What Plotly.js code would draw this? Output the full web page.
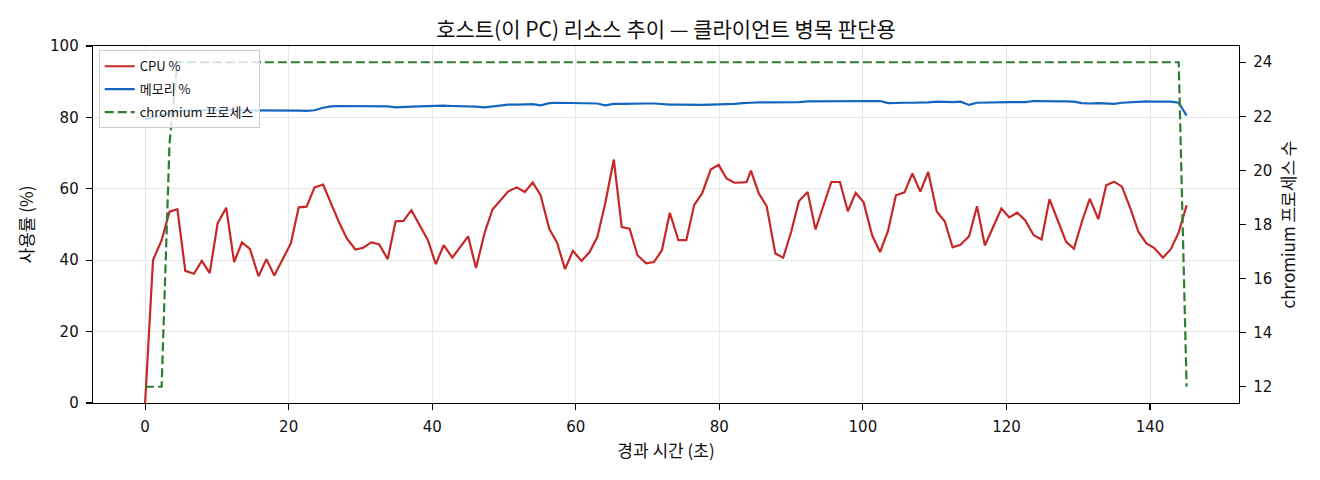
<!DOCTYPE html>
<html>
<head>
<meta charset="utf-8">
<script src="https://cdn.plot.ly/plotly-3.0.1.min.js"></script>
<style>html,body{margin:0;padding:0;background:#fff;}#chart{width:1320px;height:480px;}</style>
</head>
<body>
<div id="chart"></div>
<script>
const elapsedSec = [
  0.0, 1.1, 2.3, 3.4, 4.5, 5.6, 6.8, 7.9, 9.0, 10.1,
  11.3, 12.4, 13.5, 14.6, 15.8, 16.9, 18.0, 19.1, 20.3, 21.4,
  22.5, 23.6, 24.8, 25.9, 27.0, 28.1, 29.3, 30.4, 31.5, 32.6,
  33.8, 34.9, 36.0, 37.1, 38.3, 39.4, 40.5, 41.6, 42.8, 43.9,
  45.0, 46.1, 47.3, 48.4, 49.5, 50.6, 51.8, 52.9, 54.0, 55.1,
  56.3, 57.4, 58.5, 59.6, 60.8, 61.9, 63.0, 64.1, 65.3, 66.4,
  67.5, 68.6, 69.8, 70.9, 72.0, 73.1, 74.3, 75.4, 76.5, 77.6,
  78.8, 79.9, 81.0, 82.1, 83.3, 83.8, 84.4, 85.5, 86.6, 87.8,
  88.9, 90.0, 91.1, 92.3, 93.4, 94.5, 95.6, 96.8, 97.9, 99.0,
  100.1, 101.3, 102.4, 103.5, 104.6, 105.8, 106.9, 108.0, 109.1, 110.3,
  111.4, 112.5, 113.6, 114.8, 115.9, 117.0, 118.1, 119.3, 120.4, 121.5,
  122.6, 123.8, 124.9, 126.0, 127.1, 128.3, 129.4, 130.5, 131.6, 132.8,
  133.9, 135.0, 136.1, 137.3, 138.4, 139.5, 140.6, 141.8, 142.9, 144.0,
  145.1
];

const cpuPct = [
  0, 40.0, 45.6, 53.6, 54.3, 37.0, 36.2, 39.8, 36.4, 50.3,
  54.7, 39.5, 45.0, 43.2, 35.5, 40.3, 35.7, 40.2, 44.7, 54.8,
  55.0, 60.4, 61.2, 55.9, 50.7, 46.1, 43.0, 43.5, 45.0, 44.5,
  40.3, 50.9, 51.0, 54.0, 49.8, 45.6, 38.9, 44.2, 40.7, 43.7,
  46.7, 37.8, 47.7, 54.2, 56.7, 59.3, 60.4, 59.1, 61.8, 58.2,
  48.8, 44.9, 37.5, 42.6, 39.8, 42.2, 46.5, 55.9, 68.2, 49.3,
  48.8, 41.4, 39.1, 39.5, 42.8, 53.3, 45.6, 45.6, 55.5, 58.7,
  65.4, 66.7, 62.9, 61.7, 61.8, 61.9, 65.1, 58.7, 55.1, 41.9,
  40.7, 47.9, 56.6, 59.1, 48.6, 55.1, 61.9, 61.9, 53.7, 58.9,
  56.2, 46.9, 42.3, 48.2, 58.2, 59.0, 64.3, 59.2, 64.7, 53.6,
  50.9, 43.6, 44.3, 46.7, 55.1, 44.1, 49.3, 54.5, 52.0, 53.3,
  51.2, 47.0, 45.8, 57.1, 51.4, 45.2, 43.2, 50.7, 57.2, 51.5,
  61.0, 62.0, 60.6, 54.3, 47.9, 44.7, 43.4, 40.7, 43.1, 47.8,
  55.4
];

const memPct = [
  79.5, 80.0, 80.6, 81.2, 81.7, 81.9, 82.0, 82.0, 82.1, 82.1,
  82.0, 82.0, 82.1, 82.0, 82.0, 82.0, 82.0, 82.0, 82.0, 81.9,
  81.8, 82.0, 82.7, 83.1, 83.2, 83.2, 83.2, 83.2, 83.2, 83.2,
  83.1, 82.8, 83.0, 83.0, 83.1, 83.2, 83.3, 83.3, 83.2, 83.2,
  83.1, 83.0, 82.8, 83.1, 83.5, 83.6, 83.6, 83.7, 83.7, 83.4,
  84.0, 84.1, 84.1, 84.1, 84.0, 83.9, 83.9, 83.4, 83.8, 83.8,
  83.9, 83.9, 83.9, 83.9, 83.7, 83.6, 83.6, 83.5, 83.6, 83.5,
  83.6, 83.6, 83.7, 83.8, 84.0, 84.1, 84.1, 84.2, 84.2, 84.2,
  84.2, 84.3, 84.3, 84.5, 84.5, 84.5, 84.5, 84.5, 84.5, 84.6,
  84.6, 84.6, 84.6, 84.0, 84.1, 84.1, 84.1, 84.1, 84.2, 84.4,
  84.3, 84.3, 84.4, 83.5, 84.1, 84.2, 84.2, 84.2, 84.3, 84.3,
  84.3, 84.6, 84.5, 84.5, 84.5, 84.5, 84.4, 84.0, 83.9, 84.0,
  83.9, 83.8, 84.1, 84.3, 84.5, 84.5, 84.4, 84.4, 84.4, 84.1,
  80.5
];

const chromiumProcs = [
  12, 12, 12, 21, 24, 24, 24, 24, 24, 24,
  24, 24, 24, 24, 24, 24, 24, 24, 24, 24,
  24, 24, 24, 24, 24, 24, 24, 24, 24, 24,
  24, 24, 24, 24, 24, 24, 24, 24, 24, 24,
  24, 24, 24, 24, 24, 24, 24, 24, 24, 24,
  24, 24, 24, 24, 24, 24, 24, 24, 24, 24,
  24, 24, 24, 24, 24, 24, 24, 24, 24, 24,
  24, 24, 24, 24, 24, 24, 24, 24, 24, 24,
  24, 24, 24, 24, 24, 24, 24, 24, 24, 24,
  24, 24, 24, 24, 24, 24, 24, 24, 24, 24,
  24, 24, 24, 24, 24, 24, 24, 24, 24, 24,
  24, 24, 24, 24, 24, 24, 24, 24, 24, 24,
  24, 24, 24, 24, 24, 24, 24, 24, 24, 24,
  12
];

const seriesNames = ['CPU %', '메모리 %', 'chromium 프로세스'];
const titleText = '호스트(이 PC) 리소스 추이 — 클라이언트 병목 판단용';
const xTitle = '경과 시간 (초)';
const yTitle = '사용률 (%)';
const y2Title = 'chromium 프로세스 수';

const FONT = "'Noto Sans CJK KR', 'Noto Sans', sans-serif";
const TICKFONT = "'DejaVu Sans', 'Noto Sans CJK KR', sans-serif";

const traces = [
  {x: elapsedSec, y: cpuPct, name: seriesNames[0], type: 'scatter', mode: 'lines',
   legendgroup: 'a', line: {color: '#c62828', width: 2.2}},
  {x: elapsedSec, y: memPct, name: seriesNames[1], type: 'scatter', mode: 'lines',
   legendgroup: 'b', line: {color: '#1565c0', width: 2.2}},
  {x: elapsedSec, y: chromiumProcs, name: seriesNames[2], type: 'scatter', mode: 'lines',
   legendgroup: 'c', yaxis: 'y2', line: {color: '#2e7d32', width: 2.2, dash: '9px,4px'}}
];

const axisCommon = {
  showline: true, linecolor: '#000', linewidth: 1.3,
  ticks: 'outside', ticklen: 6, tickcolor: '#000', tickwidth: 1.2,
  zeroline: false, tickfont: {size: 15, color: '#111', family: TICKFONT}
};

const layout = {
  width: 1320, height: 480,
  margin: {l: 93, r: 81, t: 46, b: 77},
  paper_bgcolor: '#fff', plot_bgcolor: '#fff',
  font: {family: FONT, color: '#111'},
  title: {text: titleText, font: {size: 21, family: FONT, color: '#111'},
          x: 0.5, xref: 'paper', y: 1 - 30/480, yref: 'container', yanchor: 'middle'},
  showlegend: true,
  legend: {x: 0.005, y: 0.988, xanchor: 'left', yanchor: 'top', traceorder: 'grouped',
           tracegroupgap: 3,
           bgcolor: 'rgba(255,255,255,0.8)', bordercolor: '#cccccc', borderwidth: 1,
           font: {size: 13, family: FONT, color: '#111'}},
  xaxis: Object.assign({}, axisCommon, {
    range: [-7.26, 152.4], tickmode: 'linear', tick0: 0, dtick: 20,
    showgrid: true, gridcolor: '#e6e6e6', gridwidth: 1, mirror: true,
    ticklabelstandoff: 4,
    title: {text: xTitle, font: {size: 17, family: FONT}, standoff: 9}
  }),
  yaxis: Object.assign({}, axisCommon, {
    range: [0, 100], tickmode: 'linear', tick0: 0, dtick: 20,
    showgrid: true, gridcolor: '#e6e6e6', gridwidth: 1, mirror: true,
    ticklabelstandoff: 4,
    title: {text: yTitle, font: {size: 17, family: FONT}, standoff: 12}
  }),
  yaxis2: Object.assign({}, axisCommon, {
    overlaying: 'y', side: 'right', anchor: 'x',
    range: [11.4, 24.6], tickmode: 'linear', tick0: 12, dtick: 2,
    showgrid: false, ticklabelstandoff: 4,
    title: {text: y2Title, font: {size: 17, family: FONT}, standoff: 11}
  })
};

Plotly.newPlot('chart', traces, layout, {displayModeBar: false, staticPlot: true});
</script>
</body>
</html>
